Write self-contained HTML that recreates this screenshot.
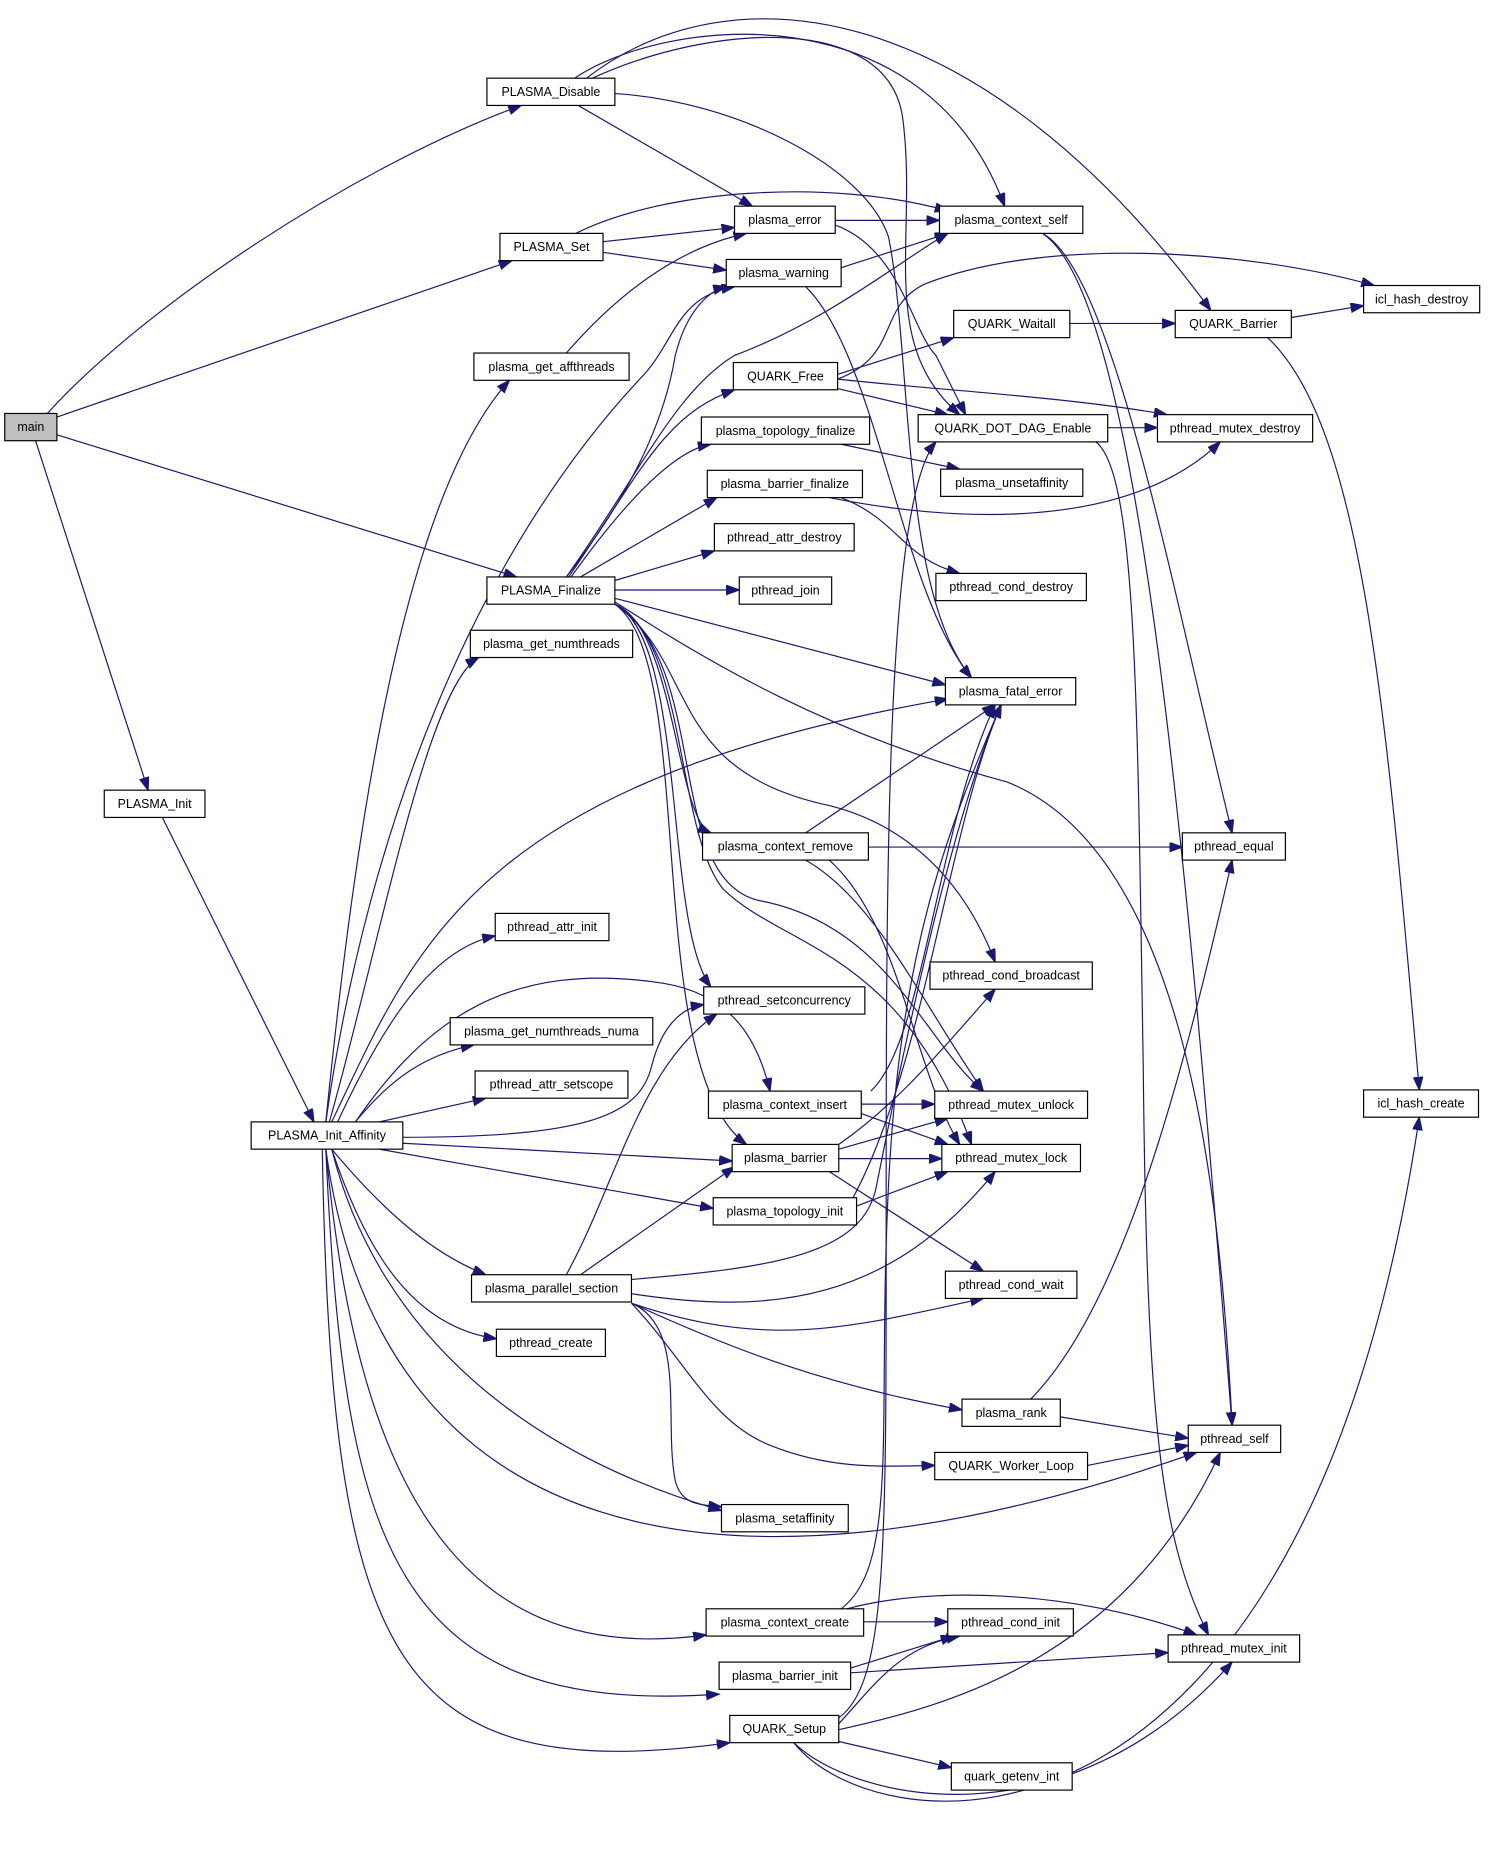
<!DOCTYPE html>
<html><head><meta charset="utf-8"><style>
html,body{margin:0;padding:0;background:#fff;}
svg{display:block;}
text{font-family:"Liberation Sans",sans-serif;font-size:10.5px;fill:#000;text-anchor:middle;}
.n{fill:#fff;stroke:#000;stroke-width:1;}
.e{fill:none;stroke:#191970;stroke-width:1;marker-end:url(#a);}
</style></head><body>
<svg width="1488" height="1857" viewBox="0 0 1256 1567.5" xmlns="http://www.w3.org/2000/svg">
<defs><marker id="a" markerUnits="userSpaceOnUse" markerWidth="12" markerHeight="10" refX="11" refY="4" orient="auto"><path d="M0,0 L11,4 L0,8 z" fill="#191970" stroke="#191970"/></marker></defs>
<g>
<path class="e" d="M40,349 C120,260 300,140 440,89"/>
<path class="e" d="M48,352 L432,220"/>
<path class="e" d="M48,367 L436,487"/>
<path class="e" d="M30,372 L125,667"/>
<path class="e" d="M137,690 L265,947"/>
<path class="e" d="M488,89 L635,174"/>
<path class="e" d="M485,66 C560,15 780,-10 848,174"/>
<path class="e" d="M495,66 C620,-30 830,0 1022,262"/>
<path class="e" d="M500,66 C600,20 750,10 762,100 C775,200 740,290 810,350"/>
<path class="e" d="M519,79 C620,85 730,140 750,200 C770,300 760,500 820,572"/>
<path class="e" d="M509,204 L620,192"/>
<path class="e" d="M509,213 L613,228"/>
<path class="e" d="M486,197 C560,160 700,150 800,178"/>
<path class="e" d="M478,298 C520,250 570,210 630,197"/>
<path class="e" d="M705,186 L793,186"/>
<path class="e" d="M705,190 C760,210 770,280 790,300 C800,320 810,340 815,350"/>
<path class="e" d="M710,226 L800,197"/>
<path class="e" d="M680,242 C740,300 760,500 820,572"/>
<path class="e" d="M707,316 L805,285"/>
<path class="e" d="M707,320 C760,300 740,260 780,240 C880,200 1050,210 1160,241"/>
<path class="e" d="M707,320 C800,330 900,335 985,350"/>
<path class="e" d="M707,328 L800,350"/>
<path class="e" d="M903,273 L992,273"/>
<path class="e" d="M1090,268 L1151,258"/>
<path class="e" d="M1070,285 C1150,360 1170,600 1198,920"/>
<path class="e" d="M935,361 L977,361"/>
<path class="e" d="M925,373 C960,400 960,600 965,900 C968,1200 980,1300 1020,1380"/>
<path class="e" d="M710,375 L810,396"/>
<path class="e" d="M700,420 C800,440 950,450 1030,373"/>
<path class="e" d="M710,420 C760,440 760,470 810,484"/>
<path class="e" d="M880,197 C940,230 990,500 1040,703"/>
<path class="e" d="M880,197 C960,250 1000,700 1040,1203"/>
<path class="e" d="M680,703 L840,595"/>
<path class="e" d="M733,715 L998,715"/>
<path class="e" d="M680,726 C740,760 780,850 830,921"/>
<path class="e" d="M700,726 C760,780 770,900 810,966"/>
<path class="e" d="M727,932 L789,932"/>
<path class="e" d="M727,940 L800,966"/>
<path class="e" d="M735,921 C780,880 790,700 840,595"/>
<path class="e" d="M708,978 L795,978"/>
<path class="e" d="M708,970 L800,944"/>
<path class="e" d="M708,966 C760,930 800,880 840,835"/>
<path class="e" d="M700,989 L830,1073"/>
<path class="e" d="M723,1018 L800,989"/>
<path class="e" d="M720,1011 C780,900 800,700 845,595"/>
<path class="e" d="M478,1076 C520,1000 540,900 605,856"/>
<path class="e" d="M490,1076 L620,985"/>
<path class="e" d="M533,1080 C650,1070 730,1060 740,1000 C760,900 800,700 845,595"/>
<path class="e" d="M533,1092 C650,1110 750,1100 840,989"/>
<path class="e" d="M533,1100 C650,1140 720,1120 830,1096"/>
<path class="e" d="M533,1100 C620,1140 700,1170 812,1190"/>
<path class="e" d="M533,1100 C580,1150 600,1200 650,1220 C700,1240 740,1238 789,1237"/>
<path class="e" d="M533,1100 C580,1120 560,1200 570,1250 C575,1270 590,1270 609,1272"/>
<path class="e" d="M870,1181 C950,1100 1000,900 1040,726"/>
<path class="e" d="M895,1196 L1003,1214"/>
<path class="e" d="M918,1237 L1003,1220"/>
<path class="e" d="M729,1369 L800,1369"/>
<path class="e" d="M715,1358 C780,1340 900,1340 1010,1380"/>
<path class="e" d="M710,1358 C760,1320 740,1200 750,1000 C760,800 800,700 845,595"/>
<path class="e" d="M718,1408 L805,1381"/>
<path class="e" d="M718,1412 L986,1395"/>
<path class="e" d="M708,1455 C740,1420 760,1390 810,1381"/>
<path class="e" d="M708,1460 C800,1440 950,1400 1030,1226"/>
<path class="e" d="M708,1470 L803,1492"/>
<path class="e" d="M670,1471 C720,1520 900,1560 1040,1403"/>
<path class="e" d="M670,1471 C740,1560 1100,1600 1198,943"/>
<path class="e" d="M708,1450 C750,1420 748,1300 748,1000 C748,700 750,420 790,373"/>
<path class="e" d="M478,487 C530,420 560,360 570,300 C580,260 600,245 613,242"/>
<path class="e" d="M478,487 C540,400 570,330 620,300 C700,270 760,220 800,197"/>
<path class="e" d="M480,487 C540,400 560,350 620,329"/>
<path class="e" d="M482,487 C530,420 570,380 600,375"/>
<path class="e" d="M490,487 L605,420"/>
<path class="e" d="M519,490 L603,465"/>
<path class="e" d="M519,498 L624,498"/>
<path class="e" d="M519,505 L798,578"/>
<path class="e" d="M519,508 C600,560 700,620 850,660 C1000,720 1030,1000 1040,1203"/>
<path class="e" d="M519,510 C570,530 570,690 600,703"/>
<path class="e" d="M519,510 C580,540 560,780 600,833"/>
<path class="e" d="M519,510 C590,560 560,650 700,680 C780,700 820,760 840,812"/>
<path class="e" d="M519,510 C600,560 560,740 640,760 C750,780 780,880 830,921"/>
<path class="e" d="M519,510 C580,540 570,700 610,750 C660,800 760,800 820,966"/>
<path class="e" d="M519,510 C590,560 540,900 630,966"/>
<path class="e" d="M275,947 C300,700 340,420 430,321"/>
<path class="e" d="M275,947 C310,700 400,470 540,320 C570,290 570,250 620,242"/>
<path class="e" d="M278,947 C320,800 360,580 404,555"/>
<path class="e" d="M280,947 C350,800 400,660 800,590"/>
<path class="e" d="M285,947 C330,850 370,800 418,790"/>
<path class="e" d="M300,947 C330,910 360,890 400,882"/>
<path class="e" d="M320,947 L410,927"/>
<path class="e" d="M300,947 C360,860 430,810 560,830 C620,840 640,880 650,921"/>
<path class="e" d="M340,960 C500,960 540,940 550,900 C560,860 580,850 594,848"/>
<path class="e" d="M340,965 L618,980"/>
<path class="e" d="M320,970 L602,1020"/>
<path class="e" d="M280,970 C330,1030 370,1060 410,1076"/>
<path class="e" d="M280,970 C310,1060 350,1120 419,1130"/>
<path class="e" d="M280,970 C320,1130 450,1230 609,1275"/>
<path class="e" d="M275,970 C320,1300 600,1370 1010,1226"/>
<path class="e" d="M275,970 C300,1240 380,1410 596,1380"/>
<path class="e" d="M275,970 C290,1300 330,1450 607,1430"/>
<path class="e" d="M272,970 C280,1400 330,1510 616,1471"/>
</g>
<g>
<rect x="4" y="349" width="44" height="23" fill="#bfbfbf" stroke="#000"/><text x="26" y="364">main</text>
<rect class="n" x="411" y="66" width="108" height="23"/><text x="465" y="81">PLASMA_Disable</text>
<rect class="n" x="422" y="197" width="87" height="23"/><text x="465.5" y="212">PLASMA_Set</text>
<rect class="n" x="400" y="298" width="131" height="23"/><text x="465.5" y="313">plasma_get_affthreads</text>
<rect class="n" x="411" y="487" width="108" height="23"/><text x="465" y="502">PLASMA_Finalize</text>
<rect class="n" x="88" y="667" width="85" height="23"/><text x="130.5" y="682">PLASMA_Init</text>
<rect class="n" x="397" y="532" width="137" height="23"/><text x="465.5" y="547">plasma_get_numthreads</text>
<rect class="n" x="418" y="771" width="96" height="23"/><text x="466" y="786">pthread_attr_init</text>
<rect class="n" x="380" y="859" width="171" height="23"/><text x="465.5" y="874">plasma_get_numthreads_numa</text>
<rect class="n" x="401" y="904" width="129" height="23"/><text x="465.5" y="919">pthread_attr_setscope</text>
<rect class="n" x="212" y="947" width="128" height="23"/><text x="276" y="962">PLASMA_Init_Affinity</text>
<rect class="n" x="398" y="1076" width="135" height="23"/><text x="465.5" y="1091">plasma_parallel_section</text>
<rect class="n" x="419" y="1122" width="92" height="23"/><text x="465" y="1137">pthread_create</text>
<rect class="n" x="620" y="174" width="85" height="23"/><text x="662.5" y="189">plasma_error</text>
<rect class="n" x="613" y="219" width="97" height="23"/><text x="661.5" y="234">plasma_warning</text>
<rect class="n" x="619" y="306" width="88" height="23"/><text x="663" y="321">QUARK_Free</text>
<rect class="n" x="592" y="352" width="142" height="23"/><text x="663" y="367">plasma_topology_finalize</text>
<rect class="n" x="597" y="397" width="131" height="23"/><text x="662.5" y="412">plasma_barrier_finalize</text>
<rect class="n" x="603" y="442" width="118" height="23"/><text x="662" y="457">pthread_attr_destroy</text>
<rect class="n" x="624" y="487" width="78" height="23"/><text x="663" y="502">pthread_join</text>
<rect class="n" x="593" y="703" width="140" height="23"/><text x="663" y="718">plasma_context_remove</text>
<rect class="n" x="594" y="833" width="136" height="23"/><text x="662" y="848">pthread_setconcurrency</text>
<rect class="n" x="598" y="921" width="129" height="23"/><text x="662.5" y="936">plasma_context_insert</text>
<rect class="n" x="618" y="966" width="90" height="23"/><text x="663" y="981">plasma_barrier</text>
<rect class="n" x="602" y="1011" width="121" height="23"/><text x="662.5" y="1026">plasma_topology_init</text>
<rect class="n" x="609" y="1270" width="107" height="23"/><text x="662.5" y="1285">plasma_setaffinity</text>
<rect class="n" x="596" y="1358" width="133" height="23"/><text x="662.5" y="1373">plasma_context_create</text>
<rect class="n" x="607" y="1403" width="111" height="23"/><text x="662.5" y="1418">plasma_barrier_init</text>
<rect class="n" x="616" y="1448" width="92" height="23"/><text x="662" y="1463">QUARK_Setup</text>
<rect class="n" x="793" y="174" width="121" height="23"/><text x="853.5" y="189">plasma_context_self</text>
<rect class="n" x="805" y="262" width="98" height="23"/><text x="854" y="277">QUARK_Waitall</text>
<rect class="n" x="775" y="350" width="160" height="23"/><text x="855" y="365">QUARK_DOT_DAG_Enable</text>
<rect class="n" x="794" y="396" width="120" height="23"/><text x="854" y="411">plasma_unsetaffinity</text>
<rect class="n" x="790" y="484" width="127" height="23"/><text x="853.5" y="499">pthread_cond_destroy</text>
<rect class="n" x="798" y="572" width="110" height="23"/><text x="853" y="587">plasma_fatal_error</text>
<rect class="n" x="785" y="812" width="137" height="23"/><text x="853.5" y="827">pthread_cond_broadcast</text>
<rect class="n" x="789" y="921" width="129" height="23"/><text x="853.5" y="936">pthread_mutex_unlock</text>
<rect class="n" x="795" y="966" width="117" height="23"/><text x="853.5" y="981">pthread_mutex_lock</text>
<rect class="n" x="798" y="1073" width="111" height="23"/><text x="853.5" y="1088">pthread_cond_wait</text>
<rect class="n" x="812" y="1181" width="83" height="23"/><text x="853.5" y="1196">plasma_rank</text>
<rect class="n" x="789" y="1226" width="129" height="23"/><text x="853.5" y="1241">QUARK_Worker_Loop</text>
<rect class="n" x="800" y="1358" width="106" height="23"/><text x="853" y="1373">pthread_cond_init</text>
<rect class="n" x="803" y="1488" width="102" height="23"/><text x="854" y="1503">quark_getenv_int</text>
<rect class="n" x="992" y="262" width="98" height="23"/><text x="1041" y="277">QUARK_Barrier</text>
<rect class="n" x="977" y="350" width="131" height="23"/><text x="1042.5" y="365">pthread_mutex_destroy</text>
<rect class="n" x="998" y="703" width="87" height="23"/><text x="1041.5" y="718">pthread_equal</text>
<rect class="n" x="1003" y="1203" width="78" height="23"/><text x="1042" y="1218">pthread_self</text>
<rect class="n" x="986" y="1380" width="111" height="23"/><text x="1041.5" y="1395">pthread_mutex_init</text>
<rect class="n" x="1151" y="241" width="98" height="23"/><text x="1200" y="256">icl_hash_destroy</text>
<rect class="n" x="1151" y="920" width="97" height="23"/><text x="1199.5" y="935">icl_hash_create</text>
</g>
</svg>
</body></html>
